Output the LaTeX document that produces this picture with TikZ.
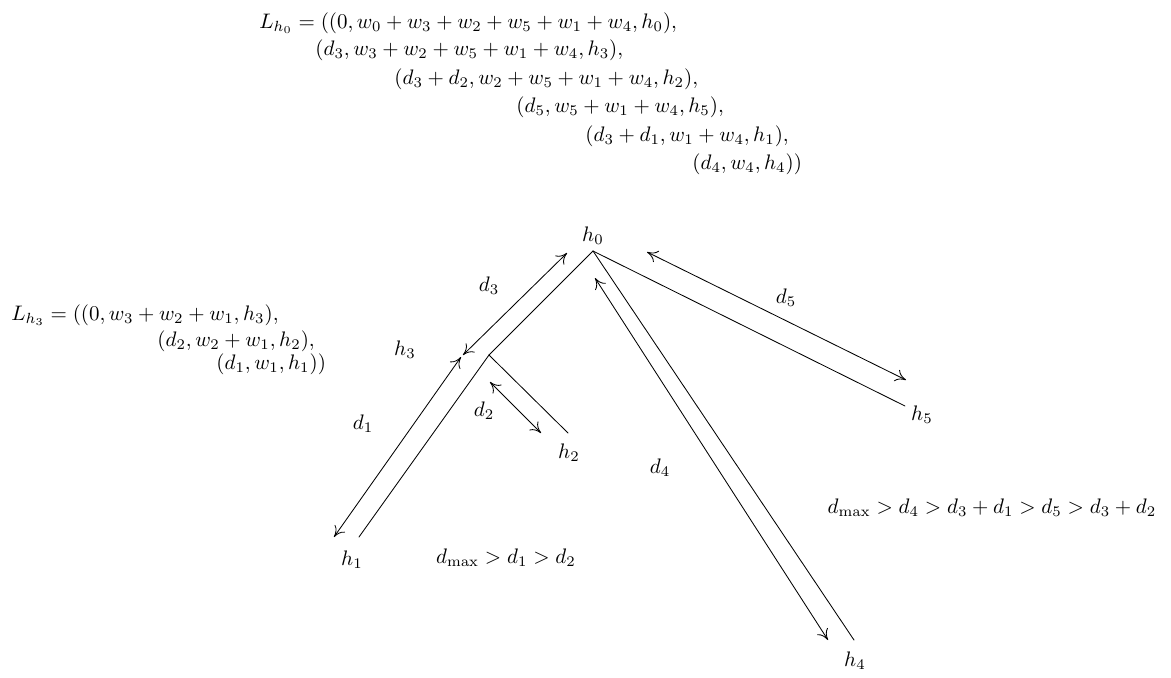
\documentclass[tikz,border=0pt]{standalone}
\usetikzlibrary{arrows.meta}
\begin{document}
\begin{tikzpicture}[
  x=0.476pt, y=-0.476pt,
  line cap=round,
  line join=round,
  >={To[length=5pt,width=6pt]}
]
  \useasboundingbox (0,0) rectangle (1171,677);

  % Вершины дерева
  \coordinate (H0) at (593,251);
  \coordinate (H3) at (489,355);
  \coordinate (H1) at (359,537);
  \coordinate (H2) at (568,433);
  \coordinate (H5) at (905,406);
  \coordinate (H4) at (854,640);

  % Рёбра дерева
  \draw (H0)--(H3);
  \draw (H3)--(H1);
  \draw (H3)--(H2);
  \draw (H0)--(H5);
  \draw (H0)--(H4);

  % Концы стрелок расстояний
  \coordinate (A3) at (567,253);
  \coordinate (B3) at (463,355);
  \coordinate (A1) at (461,357);
  \coordinate (B1) at (334,537);
  \coordinate (A2) at (490,382);
  \coordinate (B2) at (541,433);
  \coordinate (A5) at (647,252);
  \coordinate (B5) at (906,380);
  \coordinate (A4) at (595,278);
  \coordinate (B4) at (828,640);

  % Стрелки расстояний
  \draw[<->] (A3)--(B3);
  \draw[<->] (A1)--(B1);
  \draw[<->] (A2)--(B2);
  \draw[<->] (A5)--(B5);
  \draw[<->] (A4)--(B4);

  % Метки вершин
  \node (n0) at (593,236) {$h_0$};
  \node (n3) at (405,350) {$h_3$};
  \node (n1) at (352,560) {$h_1$};
  \node (n2) at (569,453) {$h_2$};
  \node (n5) at (922,415) {$h_5$};
  \node (n4) at (855,661) {$h_4$};

  % Метки расстояний
  \node (m3) at (489,286) {$d_3$};
  \node (m1) at (363,424) {$d_1$};
  \node (m2) at (484,411) {$d_2$};
  \node (m5) at (786,298) {$d_5$};
  \node (m4) at (660,468) {$d_4$};

  % Неравенства
  \node (q1) at (506,558) {$d_{\max}>d_1>d_2$};
  \node (q2) at (992,508) {$d_{\max}>d_4>d_3+d_1>d_5>d_3+d_2$};

  % Список для h_0
  \node[anchor=west] (l01) at (252,23) {$L_{h_0}=((0,w_0+w_3+w_2+w_5+w_1+w_4,h_0),$};
  \node[anchor=west] (l02) at (308,50) {$(d_3,w_3+w_2+w_5+w_1+w_4,h_3),$};
  \node[anchor=west] (l03) at (387,79) {$(d_3+d_2,w_2+w_5+w_1+w_4,h_2),$};
  \node[anchor=west] (l04) at (509,107) {$(d_5,w_5+w_1+w_4,h_5),$};
  \node[anchor=west] (l05) at (578,136) {$(d_3+d_1,w_1+w_4,h_1),$};
  \node[anchor=west] (l06) at (685,164) {$(d_4,w_4,h_4))$};

  % Список для h_3
  \node[anchor=west] (l31) at (4,315) {$L_{h_3}=((0,w_3+w_2+w_1,h_3),$};
  \node[anchor=west] (l32) at (150,341) {$(d_2,w_2+w_1,h_2),$};
  \node[anchor=west] (l33) at (209,364) {$(d_1,w_1,h_1))$};
\end{tikzpicture}
\end{document}
